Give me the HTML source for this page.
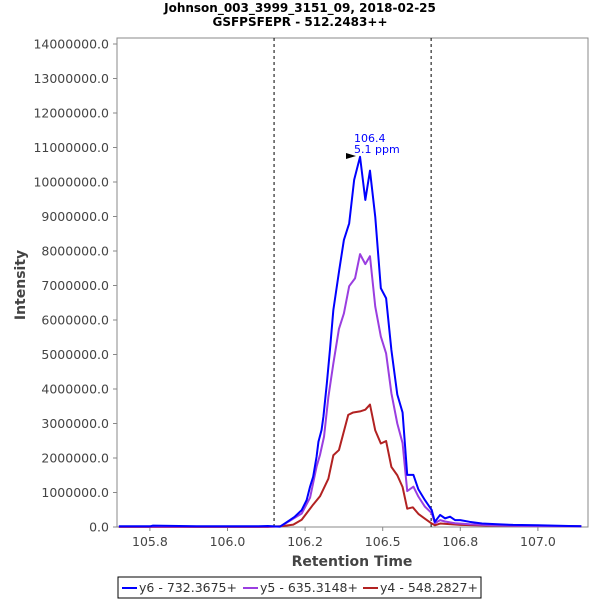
<!DOCTYPE html>
<html><head><meta charset="utf-8"><style>
body{margin:0;background:#fff;}
svg{display:block;font-family:"DejaVu Sans","Liberation Sans",sans-serif;}
</style></head><body>
<svg id="c" width="600" height="600">
<text x="300" y="12" text-anchor="middle" font-size="12" font-weight="bold">Johnson_003_3999_3151_09, 2018-02-25</text>
<text x="300" y="26" text-anchor="middle" font-size="12" font-weight="bold">GSFPSFEPR - 512.2483++</text>
<rect x="117" y="38" width="471" height="489" fill="#fff" stroke="#888"/>
<g id="yt"></g><g id="xt"></g><g id="series"></g>
<text x="352" y="566" text-anchor="middle" font-size="14" font-weight="bold" fill="#444">Retention Time</text>
<text transform="translate(25,285) rotate(-90)" text-anchor="middle" font-size="14" font-weight="bold" fill="#444">Intensity</text>
<text x="354" y="142" font-size="11" fill="#0000ff">106.4</text>
<text x="354" y="153" font-size="11" fill="#0000ff">5.1 ppm</text>
<polygon points="346,153 356,156 346,159" fill="#000"/>
<g>
<rect x="118" y="577" width="363" height="21" fill="#fff" stroke="#000"/>
<line x1="122" y1="588" x2="137" y2="588" stroke="#0000ff" stroke-width="2"/>
<text x="139" y="592" font-size="12.5" fill="#333" textLength="98">y6 - 732.3675+</text>
<line x1="243" y1="588" x2="258" y2="588" stroke="#9a3ee0" stroke-width="2"/>
<text x="260" y="592" font-size="12.5" fill="#333" textLength="98">y5 - 635.3148+</text>
<line x1="363" y1="588" x2="378" y2="588" stroke="#b22222" stroke-width="2"/>
<text x="380" y="592" font-size="12.5" fill="#333" textLength="98">y4 - 548.2827+</text>
</g>
</svg>
<script>
const yTicks=[0,1,2,3,4,5,6,7,8,9,10,11,12,13,14];
const xTicks=[105.75,106.0,106.25,106.5,106.75,107.0];
const xTickLabels=["105.8","106.0","106.2","106.5","106.8","107.0"];
const boundaries=[106.150,106.656];
const y6T=[105.65,105.75,105.76,105.9,106.1,106.13,106.169,106.201,106.217,106.239,106.255,106.266,106.276,106.287,106.293,106.303,106.309,106.320,106.330,106.341,106.360,106.375,106.392,106.408,106.427,106.444,106.459,106.476,106.494,106.511,106.528,106.547,106.564,106.579,106.599,106.615,106.636,106.658,106.668,106.685,106.701,106.717,106.733,106.75,106.78,106.82,106.87,106.92,107.0,107.1,107.14];
const y6V=[0.02,0.02,0.04,0.02,0.02,0.03,0.01,0.2,0.3,0.49,0.78,1.17,1.46,2.04,2.47,2.81,3.2,4.16,5.13,6.29,7.45,8.32,8.80,10.06,10.73,9.48,10.33,8.99,6.92,6.63,5.13,3.84,3.32,1.51,1.51,1.09,0.78,0.49,0.15,0.35,0.25,0.3,0.2,0.2,0.15,0.1,0.08,0.06,0.05,0.03,0.02];
const y5T=[105.65,106.13,106.169,106.201,106.239,106.266,106.287,106.298,106.311,106.325,106.341,106.359,106.375,106.392,106.411,106.427,106.444,106.459,106.476,106.494,106.511,106.528,106.547,106.564,106.579,106.599,106.615,106.636,106.658,106.668,106.685,106.701,106.733,106.78,106.85,106.95,107.14];
const y5V=[0.01,0.01,0.01,0.18,0.39,0.85,1.75,2.09,2.62,3.77,4.74,5.74,6.19,6.98,7.21,7.91,7.62,7.85,6.39,5.52,5.03,3.88,3.0,2.43,1.04,1.17,0.88,0.59,0.40,0.11,0.2,0.16,0.11,0.08,0.05,0.03,0.02];
const y4T=[105.65,106.13,106.180,106.212,106.239,106.260,106.276,106.298,106.325,106.341,106.359,106.389,106.405,106.427,106.444,106.459,106.476,106.494,106.511,106.528,106.547,106.564,106.579,106.597,106.615,106.636,106.658,106.668,106.685,106.75,106.85,107.14];
const y4V=[0.0,0.0,0.03,0.07,0.21,0.46,0.65,0.89,1.40,2.08,2.23,3.25,3.32,3.35,3.40,3.55,2.80,2.42,2.49,1.74,1.50,1.16,0.53,0.57,0.38,0.24,0.1,0.05,0.1,0.06,0.04,0.02];
const X=t=>227.5+(t-106)*310.4;
const Y=v=>527-v*34.5;
const NS="http://www.w3.org/2000/svg";
function mk(tag,attrs,parent){const e=document.createElementNS(NS,tag);for(const k in attrs)e.setAttribute(k,attrs[k]);parent.appendChild(e);return e;}
const yt=document.getElementById('yt');
yTicks.forEach(v=>{
  const l=mk('line',{x1:113,x2:117,y1:Y(v),y2:Y(v),stroke:'#888'},yt);
  
  
  const t=mk('text',{x:109,y:Y(v)+4.5,'text-anchor':'end','font-size':'12.5',fill:'#444'},yt);
  
  
  t.textContent=(v*1000000).toFixed(0)+'.0';
});
const xt=document.getElementById('xt');
xTicks.forEach((v,i)=>{
  const l=mk('line',{x1:X(v),x2:X(v),y1:527,y2:531,stroke:'#888'},xt);
  
  
  const t=mk('text',{x:X(v),y:546,'text-anchor':'middle','font-size':'12.5',fill:'#444'},xt);
  
  
  t.textContent=xTickLabels[i];
});
const sg=document.getElementById('series');
boundaries.forEach(b=>{
  const l=mk('line',{x1:X(b),x2:X(b),y1:38,y2:527,stroke:'#000','stroke-dasharray':'3,3','stroke-width':1},sg);
  
  
});
function line(T,V,color,name){
  const p=mk('polyline',{points:T.map((t,i)=>X(t)+','+Y(V[i])).join(' '),fill:'none',stroke:color,'stroke-width':2,'stroke-linejoin':'round'},sg);
  
  
}
line(y4T,y4V,'#b22222','series-y4');
line(y5T,y5V,'#9a3ee0','series-y5');
line(y6T,y6V,'#0000ff','series-y6');
</script>
</body></html>
